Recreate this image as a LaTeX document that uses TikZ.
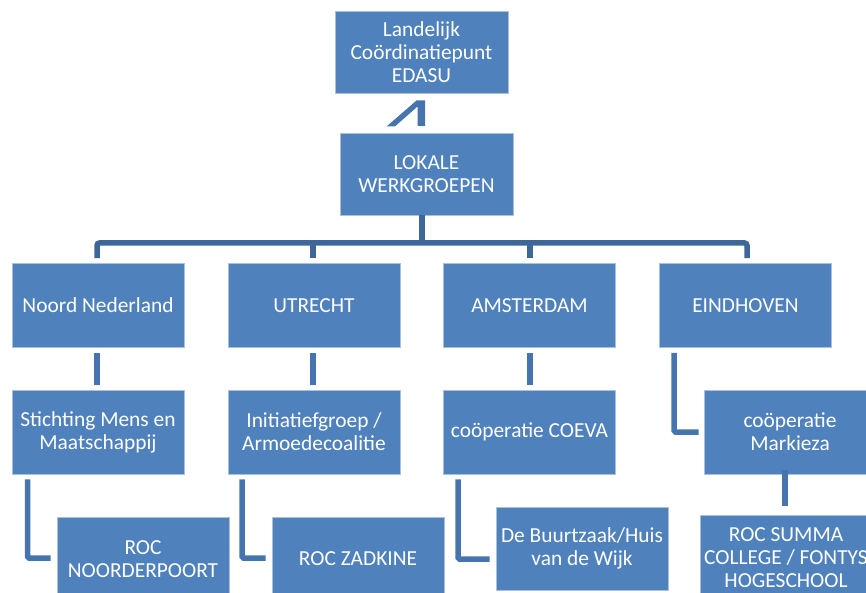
\documentclass[tikz,border=0pt]{standalone}
\usepackage{fontspec}
\setmainfont{Carlito}
\begin{document}
\begin{tikzpicture}[x=1pt,y=-1pt,
  box/.style={rectangle, fill=boxblue, draw=boxedge, line width=0.7pt, text=white,
    minimum width=172pt, minimum height=84pt, inner sep=2pt, align=center,
    font=\fontsize{21.4}{23}\selectfont},
  bus/.style={draw=busblue, line width=5.5pt, rounded corners=2.5pt},
  conn/.style={draw=connblue, line width=5.5pt, rounded corners=1.5pt}]
\definecolor{boxblue}{HTML}{4F81BD}
\definecolor{boxedge}{HTML}{A9C1DF}
\definecolor{busblue}{HTML}{3D6798}
\definecolor{connblue}{HTML}{4674AE}
\useasboundingbox (0,0) rectangle (866,593);
% nodes
\node[box, minimum width=173pt, minimum height=82pt] (top) at (421.5,52) {Landelijk\\Coördinatiepunt\\EDASU};
\node[box, minimum width=173pt, minimum height=82pt] (lok) at (426.5,174) {LOKALE\\WERKGROEPEN};
\node[box] (n1) at (98,305.5) {Noord Nederland};
\node[box] (n2) at (314,305.5) {UTRECHT};
\node[box] (n3) at (529.5,305.5) {AMSTERDAM};
\node[box] (n4) at (745.5,305.5) {EINDHOVEN};
\node[box] (s1) at (98,432) {Stichting Mens en\\Maatschappij};
\node[box] (s2) at (314,432) {Initiatiefgroep /\\Armoedecoalitie};
\node[box] (s3) at (529.5,432) {coöperatie COEVA};
\node[box] (s4) at (790,432) {coöperatie\\Markieza};
\node[box] (r1) at (143,559) {ROC\\NOORDERPOORT};
\node[box] (r2) at (358,559) {ROC ZADKINE};
\node[box, minimum height=83pt] (r3) at (582,548.5) {De Buurtzaak/Huis\\van de Wijk};
\node[box] (r4) at (786,557.5) {ROC SUMMA\\COLLEGE / FONTYS\\HOGESCHOOL};
% wedge between top and lok
\fill[connblue] ([shift={(-34.8,33)}]top.south) -- ([shift={(-4.8,7)}]top.south)
  -- ([shift={(3.5,7)}]top.south) -- ([shift={(3.5,32.5)}]top.south)
  -- ([shift={(-3.8,32.5)}]top.south) -- ([shift={(-3.8,13)}]top.south)
  -- ([shift={(-26.5,33)}]top.south) -- cycle;
% bus
\coordinate (bus) at (422,243);
\draw[bus] ([xshift=-4.5pt]lok.south) -- ([xshift=-4.5pt]lok.south |- bus);
\draw[bus] ([xshift=-1pt,yshift=5pt]n1.north) |- (bus) -| ([xshift=1.5pt,yshift=5pt]n4.north);
\draw[bus, rounded corners=0pt] ([xshift=-1pt,yshift=5pt]n2.north) -- ([xshift=-1pt]n2.north |- bus);
\draw[bus, rounded corners=0pt] ([xshift=0.5pt,yshift=5pt]n3.north) -- ([xshift=0.5pt]n3.north |- bus);
% level 2 -> level 3
\draw[conn] ([xshift=-1pt,yshift=-5pt]n1.south) -- ([xshift=-1pt,yshift=5pt]s1.north);
\draw[conn] ([xshift=-1pt,yshift=-5pt]n2.south) -- ([xshift=-1pt,yshift=5pt]s2.north);
\draw[conn] ([xshift=0.5pt,yshift=-5pt]n3.south) -- ([xshift=0.5pt,yshift=5pt]s3.north);
\draw[conn] ([xshift=-71.5pt,yshift=-5pt]n4.south) |- ([xshift=-5pt]s4.west);
% level 3 -> level 4
\draw[conn] ([xshift=-70.5pt,yshift=-5pt]s1.south) |- ([xshift=-6pt,yshift=1pt]r1.west);
\draw[conn] ([xshift=-72pt,yshift=-5pt]s2.south) |- ([xshift=-6pt,yshift=1pt]r2.west);
\draw[conn] ([xshift=-71.5pt,yshift=-5pt]s3.south) |- ([xshift=-6pt,yshift=-10.5pt]r3.west);
\draw[conn] ([xshift=-5pt,yshift=4pt]s4.south) -- ([xshift=-1pt,yshift=9pt]r4.north);
\end{tikzpicture}
\end{document}
